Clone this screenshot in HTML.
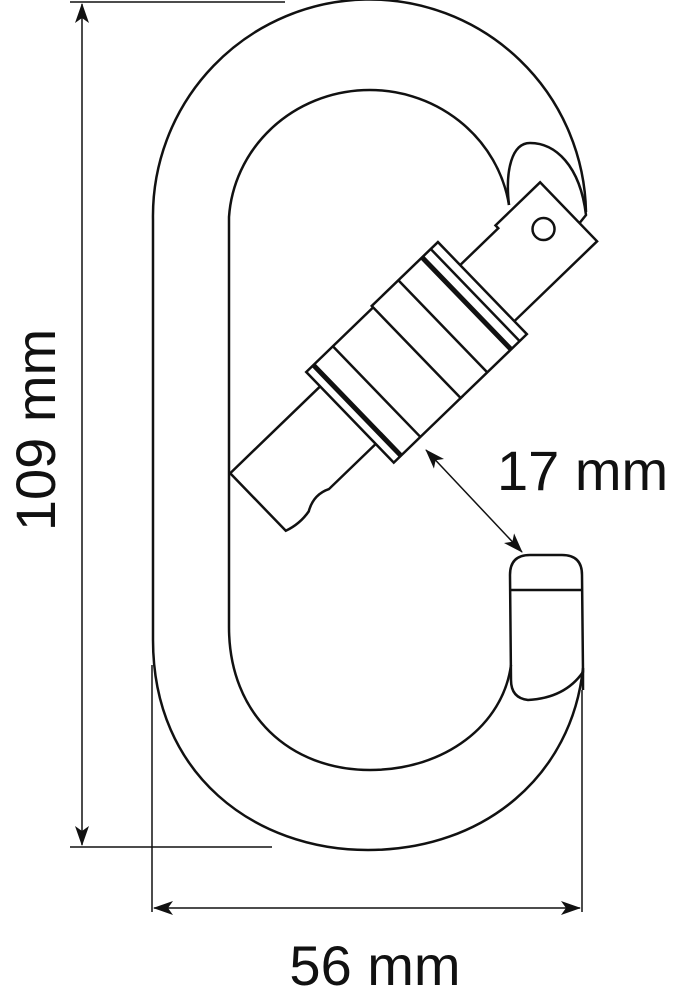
<!DOCTYPE html>
<html><head><style>html,body{margin:0;padding:0;background:#fff}svg{display:block}</style></head>
<body>
<svg width="697" height="1000" viewBox="0 0 697 1000" xmlns="http://www.w3.org/2000/svg">
<defs>
<marker id="a" viewBox="0 0 20 14" refX="19" refY="7" markerWidth="20" markerHeight="14" markerUnits="userSpaceOnUse" orient="auto-start-reverse">
<path d="M0,0 L20,7 L0,14 L5,7 Z" fill="#111"/></marker>
</defs>
<g fill="none" stroke="#111" stroke-width="2.5">
<path d="M586,212 A216,216 0 0 0 153,220 L153,640 C153,775 255,850 368,850 C485,850 572,775 583,668 L583,690"/>
<path d="M509,205 A141,136 0 0 0 229,217 L229,627 C229,715 290,770 370,770 C445,770 503,725 511,665"/>
<path d="M509,205 C505,170 512,143 530,143 C555,143 580,165 586,215 L578,225"/>
<path d="M511,680 L510,575 Q510,555 530,555 L562,555 Q582,555 582,575 L583,672 Q565,698 528,700 Q511,698 511,680 Z"/>
<line x1="511" y1="590" x2="582" y2="590"/>
</g>
<g transform="translate(258,502) rotate(-44)" fill="#fff" stroke="#111" stroke-width="2.5">
<path d="M0,-40 L130,-40 L130,40 L60,40 Q45,33 30,42 Q15,45 0,40 Z"/>
<path d="M300,-30 L363,-30 L363,-34 L425,-34 L425,48 L300,48 Z"/>
<circle cx="395" cy="2" r="11"/>
<rect x="125" y="-60" width="95" height="126"/>
<rect x="218" y="-62" width="92" height="128"/>
<line x1="135" y1="-60" x2="135" y2="66" stroke-width="5"/>
<line x1="162" y1="-60" x2="162" y2="66"/>
<line x1="255" y1="-62" x2="255" y2="66"/>
<line x1="288" y1="-62" x2="288" y2="66" stroke-width="5"/>
<line x1="300" y1="-62" x2="300" y2="66"/>
</g>
<g stroke="#111" stroke-width="1.5" fill="none">
<line x1="70" y1="2" x2="285" y2="2"/>
<line x1="70" y1="847" x2="272" y2="847"/>
<line x1="82" y1="4" x2="82" y2="845" marker-start="url(#a)" marker-end="url(#a)"/>
<line x1="152" y1="665" x2="152" y2="912"/>
<line x1="582" y1="690" x2="582" y2="912"/>
<line x1="154" y1="908" x2="580" y2="908" marker-start="url(#a)" marker-end="url(#a)"/>
<line x1="426" y1="450" x2="522" y2="552" marker-start="url(#a)" marker-end="url(#a)"/>
</g>
<g font-family="Liberation Sans, sans-serif" font-size="56" fill="#111">
<text x="497" y="490">17 mm</text>
<text x="375" y="985" text-anchor="middle">56 mm</text>
<text transform="translate(55,430) rotate(-90)" text-anchor="middle">109 mm</text>
</g>
</svg>
</body></html>
